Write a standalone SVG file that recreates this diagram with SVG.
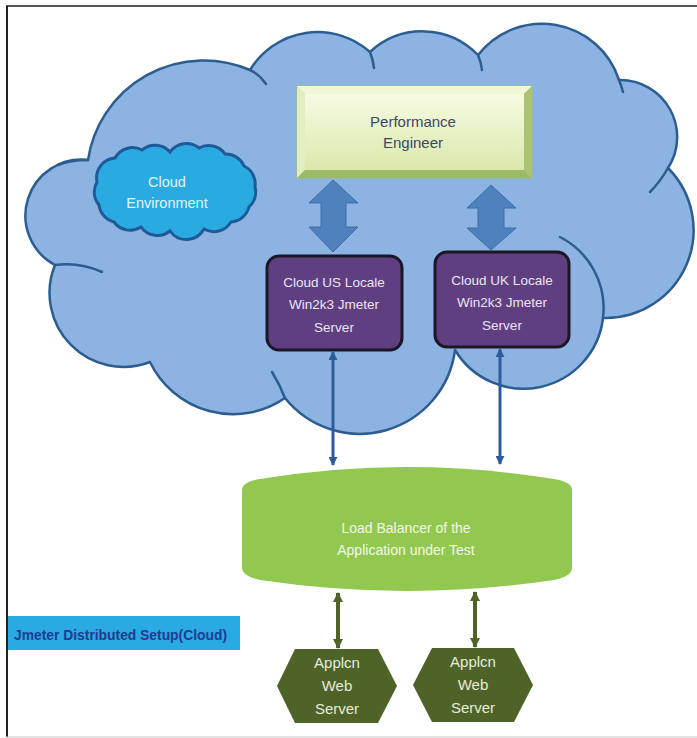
<svg xmlns="http://www.w3.org/2000/svg" width="697" height="738" viewBox="0 0 697 738">
<defs>
<style>
.t{font-family:"Liberation Sans",Arial,sans-serif;text-anchor:middle}
.cl{fill:#8db3e2;stroke:#2c5d91;stroke-width:2.5;stroke-linejoin:round}
.inner{fill:none;stroke:#2c5d91;stroke-width:2.5;stroke-linecap:round}
.pbox{fill:#5f3f80;stroke:#1c1726;stroke-width:3}
.ptxt{fill:#ece4f4;font-size:13.5px}
.blk{fill:#4f81bd;stroke:#3d6ea8;stroke-width:1}
.thin{stroke:#2e5c9a;stroke-width:3;fill:none}
.grn{stroke:#4f6228;stroke-width:4;fill:none}
.hex{fill:#4f6228}
.htxt{fill:#e6ecd8;font-size:15px}
</style>
<linearGradient id="pe" x1="0" y1="0" x2="0" y2="1">
<stop offset="0" stop-color="#f7fbe2"/>
<stop offset="1" stop-color="#d9e9ac"/>
</linearGradient>
<marker id="ab" viewBox="0 0 10 10" refX="9" refY="5" markerWidth="9" markerHeight="9" markerUnits="userSpaceOnUse" orient="auto-start-reverse">
<path d="M0,0 L10,5 L0,10 z" fill="#2e5c9a"/>
</marker>
<marker id="ag" viewBox="0 0 10 10" refX="9" refY="5" markerWidth="10" markerHeight="10" markerUnits="userSpaceOnUse" orient="auto-start-reverse">
<path d="M0,0 L10,5 L0,10 z" fill="#4f6228"/>
</marker>
</defs>
<rect width="697" height="738" fill="#ffffff"/>
<g id="frame">
<line x1="6" y1="6" x2="697" y2="6" stroke="#555" stroke-width="2"/>
<line x1="7" y1="6" x2="7" y2="737" stroke="#222" stroke-width="2"/>
<line x1="6" y1="737" x2="697" y2="737" stroke="#c8c8c8" stroke-width="1"/>
</g>
<g id="cloud-main">
<path class="cl" d="M88,160 A117,117 0 0 1 250,70 A79,79 0 0 1 370,52 A77,77 0 0 1 478,55 A81,81 0 0 1 619,80 A57,57 0 0 1 668,168 A88,88 0 0 1 603,318 A80,80 0 0 1 455,350 A96,96 0 0 1 285,398 A92,92 0 0 1 150,362 A74,74 0 0 1 55,265 A56,56 0 0 1 88,160 Z"/>
<path class="inner" d="M250,70 Q259,74 266,84"/>
<path class="inner" d="M370,52 Q373,60 374,68"/>
<path class="inner" d="M478,55 Q481,62 482,70"/>
<path class="inner" d="M619,80 Q621,85 623,92"/>
<path class="inner" d="M668,168 Q660,182 650,192"/>
<path class="inner" d="M603,318 A80,80 0 0 0 560,237"/>
<path class="inner" d="M285,398 Q280,385 272,372"/>
<path class="inner" d="M55,265 Q80,262 102,272"/>
<path class="inner" d="M88,160 Q70,160 58,165"/>
</g>
<g id="cloud-env">
<path fill="#29abe2" stroke="#1f5a98" stroke-width="3" d="M97,182 A20,20 0 0 1 115,158 A20,20 0 0 1 142,150 A20,20 0 0 1 170,152 A20,20 0 0 1 199,148 A20,20 0 0 1 225,154 A20,20 0 0 1 244,166 A20,20 0 0 1 255,187 A20,20 0 0 1 249,207 A20,20 0 0 1 231,222 A20,20 0 0 1 204,229 A20,20 0 0 1 170,231 A20,20 0 0 1 141,227 A20,20 0 0 1 114,222 A20,20 0 0 1 99,205 A20,20 0 0 1 97,182 Z"/>
<text class="t" x="167" y="187" fill="#e2f3fb" font-size="14.5">Cloud</text>
<text class="t" x="167" y="208" fill="#e2f3fb" font-size="14.5">Environment</text>
</g>
<g id="perf-engineer">
<rect x="297" y="86" width="235" height="92" fill="#b9d28a" stroke="#a3bf6a" stroke-width="1"/>
<polygon points="297,86 532,86 524,94 305,94" fill="#f1f8d6"/>
<polygon points="297,86 305,94 305,170 297,178" fill="#e3eec0"/>
<polygon points="532,86 532,178 524,170 524,94" fill="#a9c473"/>
<polygon points="297,178 305,170 524,170 532,178" fill="#9dba65"/>
<rect x="305" y="94" width="219" height="76" fill="url(#pe)"/>
<text class="t" x="413" y="127" fill="#3a4862" font-size="15">Performance</text>
<text class="t" x="413" y="148" fill="#3a4862" font-size="15">Engineer</text>
</g>
<g id="block-arrows">
<polygon class="blk" points="333,180 358,203 346,203 346,227 358,227 333,252 309,227 321,227 321,203 309,203"/>
<polygon class="blk" points="491,185 516,208 504,208 504,228 516,228 491,250 467,228 478,228 478,208 467,208"/>
</g>
<g id="us-server">
<rect class="pbox" x="267" y="256" width="135" height="94" rx="12"/>
<text class="t ptxt" x="334" y="287">Cloud US  Locale</text>
<text class="t ptxt" x="334" y="309">Win2k3 Jmeter</text>
<text class="t ptxt" x="334" y="332">Server</text>
</g>
<g id="uk-server">
<rect class="pbox" x="435" y="252" width="134" height="95" rx="12"/>
<text class="t ptxt" x="502" y="285">Cloud UK Locale</text>
<text class="t ptxt" x="502" y="307">Win2k3 Jmeter</text>
<text class="t ptxt" x="502" y="330">Server</text>
</g>
<g id="load-balancer">
<path fill="#92c850" d="M242,490 Q242,482 260,479 Q407,455 554,479 Q572,482 572,490 L572,568 Q572,576 554,580 Q407,602 260,580 Q242,576 242,568 Z"/>
<text class="t" x="406" y="533" fill="#f2f8e6" font-size="14">Load Balancer of the</text>
<text class="t" x="406" y="555" fill="#f2f8e6" font-size="14">Application under Test</text>
</g>
<g id="connectors">
<line class="thin" x1="333" y1="352" x2="333" y2="465" marker-start="url(#ab)" marker-end="url(#ab)"/>
<line class="thin" x1="500" y1="349" x2="500" y2="464" marker-start="url(#ab)" marker-end="url(#ab)"/>
<line class="grn" x1="338" y1="593" x2="338" y2="648" marker-start="url(#ag)" marker-end="url(#ag)"/>
<line class="grn" x1="475" y1="592" x2="475" y2="647" marker-start="url(#ag)" marker-end="url(#ag)"/>
</g>
<g id="web-server-1">
<polygon class="hex" points="277,686 295,649 378,649 397,686 378,723 295,723"/>
<text class="t htxt" x="337" y="668">Applcn</text>
<text class="t htxt" x="337" y="691">Web</text>
<text class="t htxt" x="337" y="714">Server</text>
</g>
<g id="web-server-2">
<polygon class="hex" points="413,685 432,648 514,648 533,685 514,722 432,722"/>
<text class="t htxt" x="473" y="667">Applcn</text>
<text class="t htxt" x="473" y="690">Web</text>
<text class="t htxt" x="473" y="713">Server</text>
</g>
<g id="setup-label">
<rect x="8" y="616" width="232" height="34" fill="#2aaae2"/>
<text x="14" y="640" font-family="'Liberation Sans',Arial,sans-serif" font-weight="bold" font-size="14" fill="#1f3b8f" textLength="213" lengthAdjust="spacingAndGlyphs">Jmeter Distributed Setup(Cloud)</text>
</g>
</svg>
